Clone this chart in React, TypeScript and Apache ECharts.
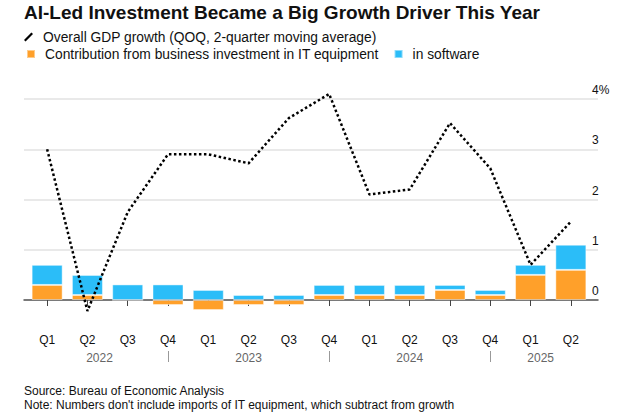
import React, { useEffect, useRef } from "react";
import * as echarts from "echarts";

const quarters = ["Q1", "Q2", "Q3", "Q4", "Q1", "Q2", "Q3", "Q4", "Q1", "Q2", "Q3", "Q4", "Q1", "Q2"];
const years = ["2022", "2023", "2024", "2025"];
const yearCenters = [1.3, 5, 9, 12.25];
const yearBreaks = [3, 7, 11];
const gdpGrowth = [3.0, -0.22, 1.75, 2.9, 2.9, 2.72, 3.62, 4.1, 2.1, 2.2, 3.52, 2.62, 0.7, 1.56];
const itEquipment = [0.3, 0.1, 0.0, -0.1, -0.2, -0.1, -0.1, 0.1, 0.1, 0.1, 0.2, 0.1, 0.5, 0.6];
const software = [0.4, 0.4, 0.31, 0.31, 0.2, 0.1, 0.1, 0.2, 0.2, 0.2, 0.1, 0.1, 0.2, 0.5];

const TITLE = "AI-Led Investment Became a Big Growth Driver This Year";
const LINE_NAME = "Overall GDP growth (QOQ, 2-quarter moving average)";
const EQ_NAME = "Contribution from business investment in IT equipment";
const SW_NAME = "in software";
const SOURCE = "Source: Bureau of Economic Analysis";
const NOTE = "Note: Numbers don't include imports of IT equipment, which subtract from growth";

const FONT = "'Liberation Sans', Arial, Helvetica, sans-serif";
const ORANGE = "#ffa02a";
const BLUE = "#2bbdf8";

export default function App() {
  const ref = useRef<HTMLDivElement>(null);
  useEffect(() => {
    if (!ref.current) return;
    const chart = echarts.init(ref.current, undefined, { renderer: "svg" });
    chart.setOption({
      animation: false,
      backgroundColor: "#ffffff",
      textStyle: { fontFamily: FONT },
      title: [
        {
          text: TITLE,
          left: 24,
          top: 3,
          padding: 0,
          textStyle: { fontSize: 19, fontWeight: "bold", color: "#111", fontFamily: FONT },
        },
        {
          text: SOURCE + "\n" + NOTE,
          left: 24,
          top: 384,
          padding: 0,
          textStyle: { fontSize: 12, fontWeight: "normal", color: "#111", lineHeight: 14, fontFamily: FONT },
        },
      ],
      legend: [
        {
          data: [{ name: LINE_NAME, icon: "path://M0,7.6 L7.4,0.2 L9,1.8 L1.6,9.2 Z" }],
          left: 24,
          top: 30,
          padding: 0,
          itemWidth: 9,
          itemHeight: 9,
          selectedMode: false,
          textStyle: { fontSize: 13.8, color: "#111", fontFamily: FONT, padding: [0, 0, 0, 5] },
        },
        {
          data: [
            { name: EQ_NAME, icon: "rect" },
            { name: SW_NAME, icon: "rect" },
          ],
          left: 26,
          top: 47,
          padding: 0,
          itemWidth: 8,
          itemHeight: 8,
          itemGap: 15,
          selectedMode: false,
          textStyle: { fontSize: 13.8, color: "#111", fontFamily: FONT, padding: [0, 0, 0, 5] },
        },
      ],
      grid: [
        { left: 24, right: 26, top: 99, bottom: 116 },
        { left: 27, right: 33, top: 99, bottom: 116 },
      ],
      xAxis: [
        {
          gridIndex: 0,
          type: "value",
          min: 0,
          max: 1,
          axisLine: { show: true, lineStyle: { color: "#555", width: 1.5 } },
          axisTick: { show: false },
          axisLabel: { show: false },
          splitLine: { show: false },
        },
        {
          gridIndex: 1,
          type: "category",
          data: quarters,
          position: "bottom",
          offset: 26,
          axisLine: { show: false },
          axisTick: { show: true, alignWithLabel: true, length: 6, lineStyle: { color: "#444" } },
          axisLabel: { interval: 0, margin: 8, color: "#111", fontSize: 12, fontFamily: FONT },
        },
        {
          gridIndex: 1,
          type: "value",
          min: -0.5,
          max: 13.5,
          position: "bottom",
          offset: 51,
          axisLine: { show: false },
          axisTick: { show: true, customValues: yearBreaks, length: 11, lineStyle: { color: "#999" } },
          axisLabel: {
            customValues: yearCenters,
            formatter: (v: number) => {
              const i = yearCenters.indexOf(v);
              return i >= 0 ? years[i] : "";
            },
            margin: 1,
            color: "#666",
            fontSize: 12,
            fontFamily: FONT,
          },
          splitLine: { show: false },
        },
      ],
      yAxis: [
        {
          gridIndex: 0,
          type: "value",
          min: 0,
          max: 4,
          interval: 1,
          position: "right",
          axisLine: { show: false },
          axisTick: { show: false },
          splitLine: { show: true, lineStyle: { color: "#e2e2e2", width: 1.5 } },
          axisLabel: {
            margin: -6,
            align: "left",
            verticalAlign: "bottom",
            padding: [0, 0, 3, 0],
            color: "#111",
            fontSize: 12,
            fontFamily: FONT,
            formatter: (v: number) => (v === 4 ? "4%" : String(v)),
          },
        },
        { gridIndex: 1, type: "value", min: 0, max: 4, interval: 1, show: false },
      ],
      series: [
        {
          name: EQ_NAME,
          type: "bar",
          xAxisIndex: 1,
          yAxisIndex: 1,
          stack: "inv",
          data: itEquipment,
          barCategoryGap: "23%",
          clip: false,
          itemStyle: { color: ORANGE, borderColor: "rgba(255,255,255,0.45)", borderWidth: 1 },
          z: 2,
        },
        {
          name: SW_NAME,
          type: "bar",
          xAxisIndex: 1,
          yAxisIndex: 1,
          stack: "inv",
          data: software,
          barCategoryGap: "23%",
          clip: false,
          itemStyle: { color: BLUE, borderColor: "rgba(255,255,255,0.45)", borderWidth: 1 },
          z: 2,
        },
        {
          name: LINE_NAME,
          type: "line",
          xAxisIndex: 1,
          yAxisIndex: 1,
          data: gdpGrowth,
          symbol: "none",
          clip: false,
          itemStyle: { color: "#000" },
          lineStyle: { color: "#000", width: 2.5, type: [2.5, 2.5], cap: "butt" },
          z: 5,
        },
      ],
    });
    return () => chart.dispose();
  }, []);
  return (
    <div
      ref={ref}
      style={{ position: "fixed", left: 0, top: 0, width: 624, height: 416, background: "#fff" }}
    />
  );
}
